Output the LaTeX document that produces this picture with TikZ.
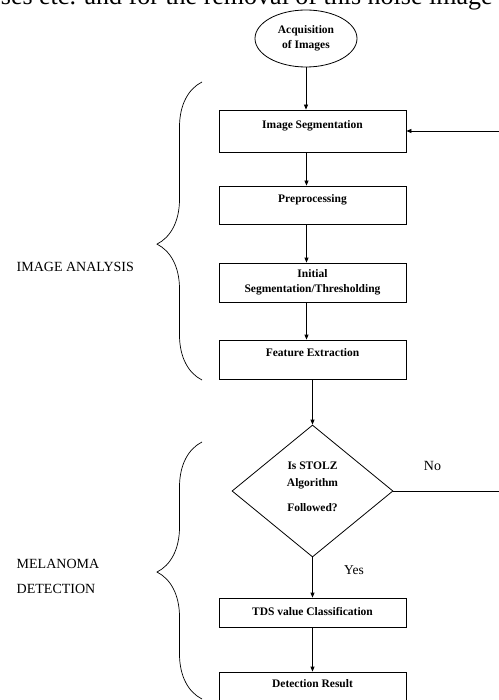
\documentclass[tikz,border=0pt]{standalone}
\usepackage{fontspec}
\setmainfont{Liberation Serif}
\usetikzlibrary{shapes.geometric, positioning, arrows.meta, decorations.pathreplacing}

\begin{document}
\begin{tikzpicture}[x=1pt, y=1pt, on grid, line width=0.8pt, >={Triangle[length=5pt,width=4pt]}]
        \tikzset{
            caja/.style={draw, rectangle, minimum width=187pt, inner sep=0pt, align=center, font=\bfseries\fontsize{11.5}{15}\selectfont},
            llave/.style={decorate, decoration={brace, amplitude=45pt, aspect=#1}, line width=0.7pt},
            etiqueta/.style={font=\fontsize{14}{25}\selectfont, align=left}
        }
        \useasboundingbox (0,0) rectangle (498,-700);

        % Texto de la pagina
        \node[anchor=base east, inner sep=0pt, font=\fontsize{26}{30}\selectfont] (frag) at (493,-5) {ses etc. and for the removal of this noise image};

        % Nodos
        \node[ellipse, draw, minimum width=102pt, minimum height=57pt, inner sep=0pt, align=center, font=\bfseries\fontsize{11.5}{15}\selectfont] (acq) at (306,-38.5) {Acquisition\\of Images};
        \node[caja, text height=18.5pt, text depth=23.5pt] (seg) at (312.5,-131) {Image Segmentation};
        \node[caja, text height=16.5pt, text depth=21.5pt] (pre) [below=74pt of seg] {Preprocessing};
        \node[caja, minimum height=39pt] (ini) [below=77.5pt of pre] {Initial\\Segmentation/Thresholding};
        \node[caja, text height=16.5pt, text depth=22.5pt] (fea) [below=77pt of ini] {Feature Extraction};
        \node[diamond, draw, minimum width=161pt, minimum height=132pt, inner sep=0pt, align=center, font=\bfseries\fontsize{11.5}{15}\selectfont] (sto) [below=131.5pt of fea] {Is STOLZ\\[2pt]Algorithm\\[10pt]Followed?\\[-6pt]\mbox{}};
        \node[caja, text height=17.5pt, text depth=11.5pt] (tds) [below=121.5pt of sto] {TDS value Classification};
        \node[caja, text height=15.5pt, text depth=17.5pt] (det) [below=76pt of tds] {Detection Result};
        \coordinate (ret) at (505,-491);

        % Llaves
        \node[etiqueta, anchor=west] (ana) at (13,-267) {IMAGE ANALYSIS};
        \node[etiqueta, anchor=west] (mel) at (13,-576.5) {MELANOMA\\DETECTION};
        \draw[llave=0.456] (202,-380) -- (202,-82);
        \draw[llave=0.494] (202,-699) -- (202,-442);

        % Flechas
        \path[->]
            (acq) edge (acq |- seg.north)
            ([xshift=-6pt]seg.south) edge ([xshift=-6pt]pre.north)
            ([xshift=-6pt]pre.south) edge ([xshift=-6pt]ini.north)
            ([xshift=-6pt]ini.south) edge ([xshift=-6pt]fea.north)
            (fea) edge (sto)
            (sto) edge node[pos=0.32, right=28pt, font=\fontsize{13.5}{16}\selectfont] {Yes} (tds)
            (tds) edge (det);
        \draw[->] (sto.east) -- node[pos=0.35, above=17pt, font=\fontsize{14}{16}\selectfont] {No} (ret) |- (seg.east);
    \end{tikzpicture}
\end{document}
